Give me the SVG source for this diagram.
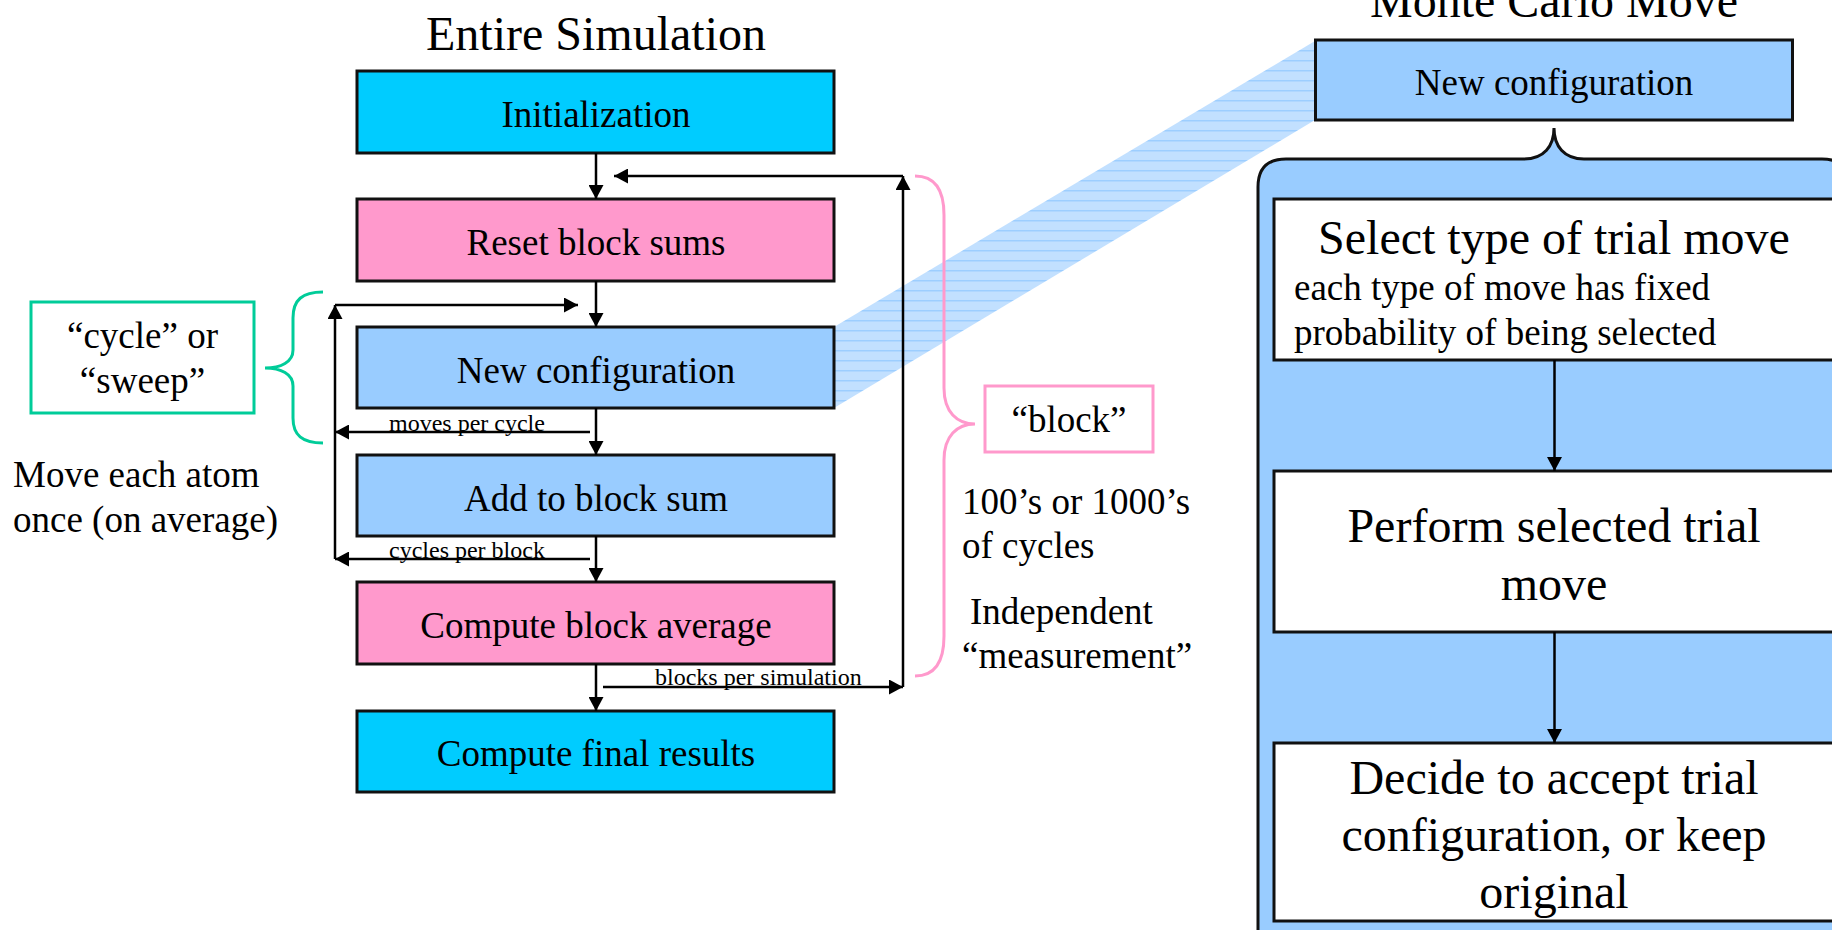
<svg xmlns="http://www.w3.org/2000/svg" width="1832" height="930" viewBox="0 0 1832 930">
  <style>
    text { font-family: "Liberation Serif", "Times New Roman", serif; fill: #000; }
    .title { font-size: 48px; text-anchor: middle; }
    .lbl { font-size: 37px; text-anchor: middle; }
    .big { font-size: 48px; text-anchor: middle; }
    .note { font-size: 37px; }
    .small { font-size: 24px; }
    .box { stroke: #111; stroke-width: 3; }
    .cyan { fill: #00CCFF; }
    .pink { fill: #FF99CC; }
    .blue { fill: #99CCFF; }
    .white { fill: #FFFFFF; }
    .conn { stroke: #000; stroke-width: 2.5; fill: none; }
    .arrow { marker-end: url(#head); }
  </style>
  <defs>
    <marker id="head" markerUnits="userSpaceOnUse" markerWidth="15" markerHeight="15" refX="14" refY="7.5" orient="auto">
      <path d="M0,0 L14,7.5 L0,15 Z" fill="#000"/>
    </marker>
    <pattern id="stripes" patternUnits="userSpaceOnUse" width="10" height="10">
      <rect width="10" height="10" fill="#99CCFF" fill-opacity="0.6"/>
      <rect width="10" height="1.5" fill="#99CCFF" fill-opacity="0.9"/>
    </pattern>
  </defs>

  <rect width="1832" height="930" fill="#FFFFFF"/>

  <!-- zoom band linking the two "New configuration" boxes -->
  <polygon id="zoom-band" points="834,327 1315,41 1315,120 834,408" fill="url(#stripes)"/>

  <!-- titles -->
  <text class="title" x="596" y="50">Entire Simulation</text>
  <text class="title" x="1554" y="17">Monte Carlo Move</text>

  <!-- left column: simulation steps -->
  <g id="init">
    <rect class="box cyan" x="357" y="71" width="477" height="82"/>
    <text class="lbl" x="596" y="127">Initialization</text>
  </g>
  <g id="reset">
    <rect class="box pink" x="357" y="199" width="477" height="82"/>
    <text class="lbl" x="596" y="255">Reset block sums</text>
  </g>
  <g id="newconf">
    <rect class="box blue" x="357" y="327" width="477" height="81"/>
    <text class="lbl" x="596" y="383">New configuration</text>
  </g>
  <g id="addsum">
    <rect class="box blue" x="357" y="455" width="477" height="81"/>
    <text class="lbl" x="596" y="511">Add to block sum</text>
  </g>
  <g id="blockavg">
    <rect class="box pink" x="357" y="582" width="477" height="82"/>
    <text class="lbl" x="596" y="638">Compute block average</text>
  </g>
  <g id="final">
    <rect class="box cyan" x="357" y="711" width="477" height="81"/>
    <text class="lbl" x="596" y="766">Compute final results</text>
  </g>

  <!-- annotations on the left -->
  <g id="cycle-note">
    <rect x="31" y="302" width="223" height="111" fill="none" stroke="#00CC99" stroke-width="3"/>
    <text class="lbl" x="142.5" y="348">“cycle” or</text>
    <text class="lbl" x="142.5" y="393">“sweep”</text>
    <path d="M323,292 C302,292 293,300 293,318 L293,350 C293,362 281,368 265,368 C281,368 293,374 293,386 L293,418 C293,435 302,443 323,443" fill="none" stroke="#00CC99" stroke-width="3"/>
  </g>
  <g id="atom-note">
    <text class="note" x="13" y="487">Move each atom</text>
    <text class="note" x="13" y="532">once (on average)</text>
  </g>

  <!-- annotations on the right of the loop -->
  <g id="block-note">
    <path d="M915,176 C935,176 944,190 944,215 L944,388 C944,412 957,424 975,424 C957,424 944,436 944,460 L944,636 C944,662 935,676 915,676" fill="none" stroke="#FF99CC" stroke-width="3"/>
    <rect x="985" y="386" width="168" height="66" fill="none" stroke="#FF99CC" stroke-width="3"/>
    <text class="lbl" x="1069" y="432">“block”</text>
    <text class="note" x="962" y="514">100’s or 1000’s</text>
    <text class="note" x="962" y="558">of cycles</text>
    <text class="note" x="970" y="624">Independent</text>
    <text class="note" x="962" y="668">“measurement”</text>
  </g>

  <!-- right panel: one Monte Carlo move -->
  <g id="mc-newconf">
    <rect class="box blue" x="1315.5" y="40" width="477" height="80"/>
    <text class="lbl" x="1554" y="95">New configuration</text>
  </g>
  <g id="mc-panel">
    <path d="M1258,945 L1258,187 Q1258,159 1286,159 L1524,159 C1544,159 1554,146 1554,128 C1554,146 1564,159 1584,159 L1822,159 Q1850,159 1850,187 L1850,945 Z" fill="#99CCFF" stroke="#111" stroke-width="3"/>
  </g>
  <g id="mc-select">
    <rect class="box white" x="1274" y="199" width="590" height="161"/>
    <text class="big" x="1554" y="254">Select type of trial move</text>
    <text class="note" x="1294" y="300">each type of move has fixed</text>
    <text class="note" x="1294" y="345">probability of being selected</text>
  </g>
  <g id="mc-perform">
    <rect class="box white" x="1274" y="471" width="590" height="161"/>
    <text class="big" x="1554" y="542">Perform selected trial</text>
    <text class="big" x="1554" y="600">move</text>
  </g>
  <g id="mc-decide">
    <rect class="box white" x="1274" y="743" width="590" height="178"/>
    <text class="big" x="1554" y="794">Decide to accept trial</text>
    <text class="big" x="1554" y="851">configuration, or keep</text>
    <text class="big" x="1554" y="908">original</text>
  </g>

  <!-- connectors -->
  <g id="connectors">
    <line class="conn arrow" x1="596" y1="153" x2="596" y2="199"/>
    <line class="conn arrow" x1="596" y1="281" x2="596" y2="327"/>
    <line class="conn arrow" x1="596" y1="408" x2="596" y2="455"/>
    <line class="conn arrow" x1="596" y1="536" x2="596" y2="582"/>
    <line class="conn arrow" x1="596" y1="664" x2="596" y2="711"/>

    <!-- inner loops: moves per cycle, cycles per block -->
    <line class="conn arrow" x1="590" y1="432" x2="335" y2="432"/>
    <line class="conn arrow" x1="590" y1="559" x2="335" y2="559"/>
    <line class="conn arrow" x1="335" y1="559" x2="335" y2="305"/>
    <line class="conn arrow" x1="335" y1="305" x2="578" y2="305"/>

    <!-- outer loop: blocks per simulation -->
    <line class="conn arrow" x1="603" y1="687" x2="903" y2="687"/>
    <line class="conn arrow" x1="903" y1="687" x2="903" y2="176"/>
    <line class="conn arrow" x1="903" y1="176" x2="614" y2="176"/>

    <text class="small" x="389" y="431">moves per cycle</text>
    <text class="small" x="389" y="558">cycles per block</text>
    <text class="small" x="655" y="685">blocks per simulation</text>

    <!-- Monte Carlo move steps -->
    <line class="conn arrow" x1="1554.5" y1="360" x2="1554.5" y2="471"/>
    <line class="conn arrow" x1="1554.5" y1="632" x2="1554.5" y2="743"/>
  </g>
</svg>
